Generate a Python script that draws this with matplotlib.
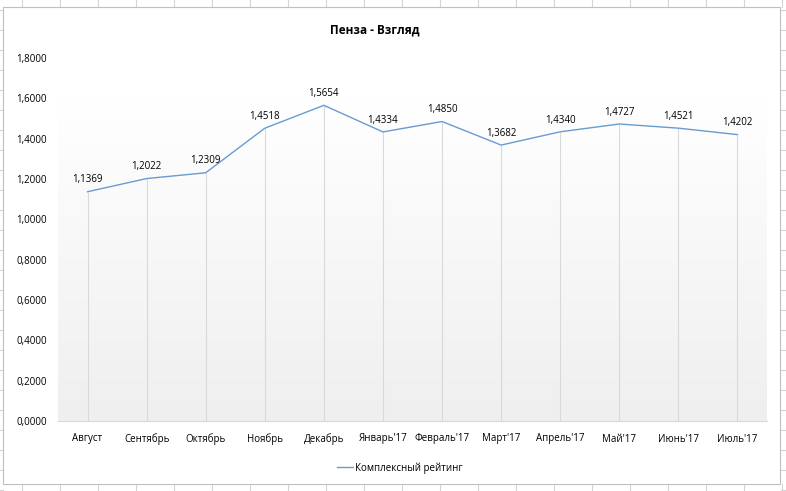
import numpy as np
import matplotlib.pyplot as plt
from matplotlib.colors import LinearSegmentedColormap
from matplotlib.lines import Line2D
from matplotlib.patches import Rectangle

months = ["Август", "Сентябрь", "Октябрь", "Ноябрь", "Декабрь", "Январь'17",
          "Февраль'17", "Март'17", "Апрель'17", "Май'17", "Июнь'17", "Июль'17"]
rating = [1.1369, 1.2022, 1.2309, 1.4518, 1.5654, 1.4334,
          1.4850, 1.3682, 1.4340, 1.4727, 1.4521, 1.4202]
yticks = [0.0, 0.2, 0.4, 0.6, 0.8, 1.0, 1.2, 1.4, 1.6, 1.8]

plt.rcParams['font.family'] = ['Open Sans', 'DejaVu Sans']

W, H = 786, 491
fig = plt.figure(figsize=(W / 100, H / 100), dpi=100)


def px(x, y):
    return x / W, 1 - y / H


# spreadsheet cell grid around the chart
cell = '#d4d4d4'
for x in np.arange(22, W, 38):
    fig.add_artist(Line2D([x / W] * 2, [1, 1 - 7 / H], color=cell, lw=0.8, zorder=-2))
    fig.add_artist(Line2D([x / W] * 2, [0, 1 - 484 / H], color=cell, lw=0.8, zorder=-2))
for y in np.arange(10, H, 20):
    fig.add_artist(Line2D([0, 3 / W], [1 - y / H] * 2, color=cell, lw=0.8, zorder=-2))
    fig.add_artist(Line2D([781 / W, 1], [1 - y / H] * 2, color=cell, lw=0.8, zorder=-2))

# chart area
fig.add_artist(Rectangle(px(3, 484), 777 / W, 477 / H, facecolor='white',
                         edgecolor='#bfbfbf', lw=0.8, zorder=-1))

l, t = px(58, 58)
r, b = px(767, 421)
ax = fig.add_axes([l, b, r - l, t - b])
ax.set_facecolor('none')

x = np.arange(len(months))
ax.set_xlim(-0.5, len(months) - 0.5)
ax.set_ylim(0, 1.8)

# plot-area gradient (light gray at bottom to white near the top)
grad = np.linspace(0, 1, 256).reshape(-1, 1)
ax.imshow(grad, extent=[-0.5, len(months) - 0.5, 0, 1.6], aspect='auto',
          cmap=LinearSegmentedColormap.from_list('g', ['#efefef', '#ffffff']),
          zorder=0, origin='lower')

# drop lines from each point down to the axis
ax.vlines(x, 0, rating, color='#d9d9d9', lw=0.8, zorder=1)

ax.plot(x, rating, color='#6a9bd0', lw=1.0, zorder=3, label='Комплексный рейтинг')
for xi, v in zip(x, rating):
    ax.annotate(f"{v:.4f}".replace('.', ','), (xi, v), xytext=(0, 8.5),
                textcoords='offset points', ha='center', va='center',
                fontsize=7, color='#000000', zorder=4)

for s in ['top', 'right', 'left']:
    ax.spines[s].set_visible(False)
ax.spines['bottom'].set_color('#d9d9d9')
ax.spines['bottom'].set_linewidth(0.8)

ax.set_xticks(x, months)
ax.set_yticks(yticks, [f"{v:.4f}".replace('.', ',') for v in yticks])
ax.tick_params(axis='both', length=0, labelsize=7, colors='#000000')
ax.tick_params(axis='x', pad=9)
ax.tick_params(axis='y', pad=8)

fig.text(*px(375, 30), "Пенза - Взгляд", ha='center', va='center',
         fontsize=8.5, fontweight='bold')

ax.legend(loc='center', bbox_to_anchor=px(400, 468),
          bbox_transform=fig.transFigure, frameon=False, fontsize=7,
          handlelength=1.6, handletextpad=0.3)

fig.savefig('out.png', dpi=100)
